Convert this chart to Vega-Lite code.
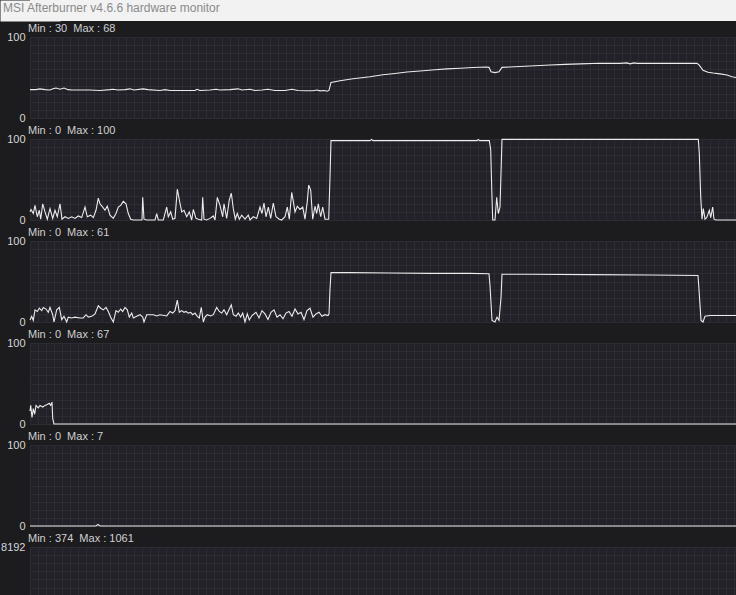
{
  "$schema": "https://vega.github.io/schema/vega-lite/v6.json",
  "background": "#1c1c1f",
  "padding": 0,
  "spacing": 2,
  "config": {
    "view": {"stroke": null, "fill": "#212127"},
    "axis": {"gridColor": "#2c2c34", "gridWidth": 1, "gridOpacity": 1, "domain": false, "ticks": false, "labelColor": "#d6d6d6", "labelFont": "Liberation Sans", "labelFontSize": 11, "title": null, "labelOverlap": false, "labelBound": false},
    "axisY": {"tickCount": 10, "labelExpr": "datum.value == 0 || datum.value == 100 ? datum.label : ''", "minExtent": 30, "maxExtent": 30, "labelPadding": 5},
    "axisX": {"labels": false},
    "title": {"anchor": "start", "frame": "group", "color": "#cfcfcf", "fontSize": 11, "fontWeight": "normal", "font": "Liberation Sans", "offset": -3, "dx": -2},
    "line": {"color": "#ececec", "strokeWidth": 1.1}
  },
  "datasets": {
    "s1": [
      {"t":0,"v":35},{"t":6,"v":35},{"t":10,"v":36},{"t":15,"v":35},{"t":20,"v":34.5},{"t":23,"v":36},{"t":26,"v":37},{"t":30,"v":35.5},{"t":34,"v":37},{"t":38,"v":35},{"t":42,"v":34.5},{"t":50,"v":34.5},{"t":60,"v":34.5},{"t":70,"v":34},{"t":80,"v":35},{"t":83,"v":35.5},{"t":88,"v":34.5},{"t":95,"v":35},{"t":100,"v":36},{"t":104,"v":34.5},{"t":113,"v":36},{"t":118,"v":35},{"t":130,"v":34},{"t":135,"v":35},{"t":140,"v":34},{"t":150,"v":34},{"t":165,"v":34},{"t":167,"v":35.5},{"t":170,"v":34},{"t":180,"v":34.5},{"t":186,"v":35.5},{"t":190,"v":34.5},{"t":200,"v":35},{"t":208,"v":36},{"t":212,"v":34.5},{"t":220,"v":35.5},{"t":225,"v":34},{"t":232,"v":34.5},{"t":238,"v":35.5},{"t":245,"v":34},{"t":255,"v":34},{"t":262,"v":35.5},{"t":268,"v":34},{"t":275,"v":33.7},{"t":283,"v":33.7},{"t":287,"v":34.5},{"t":290,"v":33.5},{"t":294,"v":34},{"t":297,"v":33},{"t":299,"v":34},{"t":301,"v":44},{"t":310,"v":46},{"t":323,"v":48.5},{"t":340,"v":51},{"t":353,"v":53.4},{"t":365,"v":55},{"t":377,"v":56.7},{"t":390,"v":58},{"t":405,"v":59.5},{"t":417,"v":60.7},{"t":430,"v":61.5},{"t":443,"v":62.3},{"t":456,"v":63},{"t":459,"v":62.5},{"t":461,"v":57},{"t":465,"v":56},{"t":469,"v":57},{"t":472,"v":62.5},{"t":480,"v":63},{"t":490,"v":63.5},{"t":505,"v":64.5},{"t":520,"v":65.5},{"t":535,"v":66.2},{"t":550,"v":66.8},{"t":570,"v":67.5},{"t":590,"v":67.5},{"t":597,"v":68},{"t":600,"v":66.8},{"t":604,"v":68},{"t":607,"v":67.5},{"t":630,"v":67.5},{"t":650,"v":67.5},{"t":667,"v":67.5},{"t":669,"v":65.6},{"t":673,"v":59},{"t":678,"v":56.5},{"t":683,"v":55.5},{"t":690,"v":54.5},{"t":697,"v":53},{"t":702,"v":51},{"t":706,"v":50}
    ],
    "s2": [
      {"t":0,"v":10},{"t":1,"v":13},{"t":3.3,"v":8},{"t":5,"v":18},{"t":7.3,"v":4},{"t":9.3,"v":12},{"t":10.7,"v":1},{"t":12.7,"v":20},{"t":15,"v":10},{"t":17.3,"v":1},{"t":20,"v":14},{"t":22.7,"v":2},{"t":25,"v":12},{"t":27.3,"v":4},{"t":30,"v":20},{"t":32,"v":1},{"t":35,"v":4},{"t":38.3,"v":2},{"t":41.7,"v":4},{"t":45,"v":2},{"t":48.3,"v":5},{"t":51.7,"v":3},{"t":55,"v":16},{"t":57.3,"v":4},{"t":60.7,"v":6},{"t":63.3,"v":3},{"t":66,"v":12},{"t":68.3,"v":27},{"t":70,"v":20},{"t":72.7,"v":16},{"t":75,"v":12},{"t":77.3,"v":17},{"t":80,"v":6},{"t":83.3,"v":2},{"t":86,"v":8},{"t":88.3,"v":16},{"t":90.7,"v":18},{"t":93.3,"v":23},{"t":96,"v":20},{"t":98.3,"v":8},{"t":100.7,"v":1},{"t":103.3,"v":0},{"t":112,"v":0},{"t":112.7,"v":28},{"t":114,"v":1},{"t":116.7,"v":0},{"t":125,"v":0},{"t":126.7,"v":8},{"t":128.3,"v":0},{"t":133.3,"v":0},{"t":136.7,"v":16},{"t":138.3,"v":4},{"t":140.7,"v":10},{"t":142.7,"v":1},{"t":145,"v":2},{"t":147.3,"v":38},{"t":149.3,"v":25},{"t":151.7,"v":10},{"t":154,"v":12},{"t":156.7,"v":4},{"t":159.3,"v":10},{"t":161.7,"v":0},{"t":163.3,"v":13},{"t":166,"v":2},{"t":168.3,"v":1},{"t":171.7,"v":0},{"t":172.7,"v":28},{"t":174,"v":1},{"t":176.7,"v":0},{"t":180,"v":2},{"t":183.3,"v":5},{"t":185,"v":0},{"t":187.3,"v":28},{"t":190,"v":18},{"t":192.7,"v":4},{"t":194,"v":20},{"t":196.7,"v":2},{"t":199.3,"v":25},{"t":201.3,"v":33},{"t":203.3,"v":14},{"t":205.3,"v":1},{"t":207.3,"v":8},{"t":209.3,"v":1},{"t":211.7,"v":6},{"t":215,"v":1},{"t":218.3,"v":6},{"t":220,"v":0},{"t":223.3,"v":4},{"t":226.7,"v":2},{"t":230,"v":16},{"t":232,"v":8},{"t":234,"v":21},{"t":236,"v":4},{"t":238.3,"v":16},{"t":240.7,"v":2},{"t":243.3,"v":21},{"t":246,"v":4},{"t":249.3,"v":1},{"t":251.7,"v":0},{"t":255,"v":4},{"t":257.3,"v":16},{"t":259.3,"v":1},{"t":261.7,"v":34},{"t":263.3,"v":23},{"t":265,"v":10},{"t":267.3,"v":17},{"t":270,"v":13},{"t":272.7,"v":16},{"t":275,"v":1},{"t":277.3,"v":23},{"t":278.7,"v":43},{"t":280.7,"v":37},{"t":282.7,"v":1},{"t":285,"v":17},{"t":286.7,"v":8},{"t":288.3,"v":20},{"t":290.7,"v":4},{"t":292.7,"v":16},{"t":295,"v":1},{"t":298.7,"v":1},{"t":300,"v":53},{"t":301,"v":98},{"t":340,"v":98},{"t":341.7,"v":99.5},{"t":343,"v":98},{"t":447,"v":98},{"t":448.3,"v":99.5},{"t":449.5,"v":98},{"t":459.3,"v":98},{"t":460.7,"v":87},{"t":461.7,"v":40},{"t":462.7,"v":0},{"t":465,"v":0},{"t":466.7,"v":28},{"t":468.3,"v":8},{"t":470,"v":16},{"t":471,"v":58},{"t":472,"v":99.5},{"t":668.3,"v":99.5},{"t":669.3,"v":82},{"t":670.7,"v":29},{"t":672,"v":1},{"t":673.3,"v":14},{"t":675,"v":1},{"t":676.7,"v":3},{"t":679.3,"v":12},{"t":680.7,"v":3},{"t":682.7,"v":16},{"t":684,"v":1},{"t":686,"v":0},{"t":706,"v":0}
    ],
    "s3": [
      {"t":0,"v":2.5},{"t":1.7,"v":7},{"t":3.3,"v":2},{"t":5,"v":15},{"t":7.3,"v":13},{"t":9.3,"v":17},{"t":11.7,"v":14},{"t":13.3,"v":18},{"t":16,"v":16},{"t":18.3,"v":12},{"t":20,"v":18},{"t":22.7,"v":9},{"t":24,"v":0},{"t":26.7,"v":15},{"t":29.3,"v":18},{"t":31.7,"v":3},{"t":34,"v":7},{"t":36.7,"v":0},{"t":38.3,"v":6},{"t":41.7,"v":5},{"t":45,"v":6},{"t":50,"v":5},{"t":53.3,"v":5},{"t":56,"v":9},{"t":58.3,"v":6},{"t":61.7,"v":7},{"t":65,"v":10},{"t":68.3,"v":20},{"t":70.7,"v":17},{"t":73.3,"v":15},{"t":76,"v":18},{"t":78.3,"v":13},{"t":80.7,"v":6},{"t":83.3,"v":0},{"t":86,"v":14},{"t":88.3,"v":12},{"t":90.7,"v":16},{"t":92.7,"v":13},{"t":95,"v":18},{"t":97.3,"v":15},{"t":99.3,"v":6},{"t":101.7,"v":11},{"t":103.3,"v":5},{"t":106.7,"v":7},{"t":110,"v":9},{"t":112.7,"v":6},{"t":114,"v":0},{"t":116.7,"v":9},{"t":123.3,"v":9},{"t":126.7,"v":7.5},{"t":130,"v":9},{"t":136.7,"v":7.5},{"t":140,"v":13},{"t":142.7,"v":11},{"t":145,"v":14},{"t":147.3,"v":27},{"t":149.3,"v":12},{"t":151.7,"v":14},{"t":154,"v":12},{"t":156,"v":13},{"t":158.3,"v":11},{"t":160.7,"v":12},{"t":162.7,"v":9},{"t":165,"v":11},{"t":167.3,"v":7},{"t":169.3,"v":5},{"t":171.3,"v":18},{"t":173.3,"v":0},{"t":175,"v":6},{"t":177.3,"v":9},{"t":180.7,"v":7.5},{"t":183.3,"v":9},{"t":186.7,"v":18},{"t":189.3,"v":13},{"t":191.7,"v":11},{"t":194,"v":15},{"t":196.7,"v":9},{"t":199.3,"v":16},{"t":201.3,"v":21},{"t":203.3,"v":9},{"t":206,"v":7},{"t":208.3,"v":11},{"t":210.7,"v":6},{"t":212.7,"v":11},{"t":215,"v":0},{"t":217.3,"v":10},{"t":219.3,"v":2.5},{"t":222,"v":8},{"t":226,"v":12},{"t":229,"v":5},{"t":232,"v":14},{"t":235,"v":10},{"t":238,"v":3},{"t":241,"v":12},{"t":244,"v":15},{"t":247,"v":6},{"t":250,"v":9},{"t":253,"v":4},{"t":256,"v":11},{"t":259,"v":13},{"t":262,"v":7},{"t":265,"v":16},{"t":268,"v":10},{"t":271,"v":12},{"t":274,"v":3},{"t":277,"v":14},{"t":280,"v":17},{"t":283,"v":6},{"t":286,"v":10},{"t":289,"v":12},{"t":292,"v":7},{"t":295,"v":9},{"t":298,"v":8},{"t":299,"v":10},{"t":300,"v":40},{"t":301,"v":61},{"t":320,"v":61},{"t":360,"v":60.5},{"t":400,"v":60},{"t":440,"v":60},{"t":459,"v":59.5},{"t":460,"v":45},{"t":462,"v":2},{"t":465,"v":0},{"t":467,"v":6},{"t":469,"v":2},{"t":471,"v":30},{"t":472,"v":59},{"t":500,"v":59},{"t":560,"v":58.5},{"t":620,"v":58},{"t":668,"v":57.5},{"t":669,"v":40},{"t":671,"v":2},{"t":673,"v":0},{"t":675,"v":7},{"t":680,"v":8},{"t":706,"v":8}
    ],
    "s4": [
      {"t":0,"v":16},{"t":0.7,"v":23},{"t":2,"v":8},{"t":3.3,"v":19},{"t":4.7,"v":12},{"t":6,"v":23},{"t":8.3,"v":20},{"t":10,"v":23},{"t":12.7,"v":21},{"t":15,"v":23},{"t":17.3,"v":24},{"t":19.3,"v":25.5},{"t":20.7,"v":23},{"t":22,"v":27},{"t":22.7,"v":7},{"t":24,"v":0},{"t":706,"v":0}
    ],
    "s5": [
      {"t":0,"v":0},{"t":66,"v":0},{"t":68,"v":2},{"t":70,"v":0},{"t":706,"v":0}
    ]
  },
  "vconcat": [
    {
      "width": 706, "height": 21,
      "view": {"fill": "#f2f2f2"},
      "data": {"values": [{"label": "MSI Afterburner v4.6.6 hardware monitor"}]},
      "mark": {"type": "text", "align": "left", "baseline": "middle", "dx": -27, "color": "#8a8a8a", "font": "Liberation Sans", "fontSize": 12},
      "encoding": {
        "text": {"field": "label"},
        "x": {"datum": 0, "scale": {"domain": [0, 706]}, "axis": null},
        "y": {"datum": 0.62, "scale": {"domain": [0, 1]}, "axis": {"domain": true, "domainColor": "#f2f2f2", "domainWidth": 60, "domainCap": "butt", "labels": false, "grid": false, "ticks": false, "zindex": 0}}
      }
    },
    {
      "title": {"text": "Min : 30\u00a0 Max : 68"},
      "width": 706, "height": 81,
      "data": {"name": "s1"}, "mark": "line",
      "encoding": {"x": {"field": "t", "type": "quantitative", "scale": {"domain": [0, 706]}, "axis": {"values": [0,8,16,24,32,40,48,56,64,72,80,88,96,104,112,120,128,136,144,152,160,168,176,184,192,200,208,216,224,232,240,248,256,264,272,280,288,296,304,312,320,328,336,344,352,360,368,376,384,392,400,408,416,424,432,440,448,456,464,472,480,488,496,504,512,520,528,536,544,552,560,568,576,584,592,600,608,616,624,632,640,648,656,664,672,680,688,696,704]}}, "y": {"field": "v", "type": "quantitative", "scale": {"domain": [0, 100]}}}
    },
    {
      "title": {"text": "Min : 0\u00a0 Max : 100"},
      "width": 706, "height": 81,
      "data": {"name": "s2"}, "mark": "line",
      "encoding": {"x": {"field": "t", "type": "quantitative", "scale": {"domain": [0, 706]}, "axis": {"values": [0,8,16,24,32,40,48,56,64,72,80,88,96,104,112,120,128,136,144,152,160,168,176,184,192,200,208,216,224,232,240,248,256,264,272,280,288,296,304,312,320,328,336,344,352,360,368,376,384,392,400,408,416,424,432,440,448,456,464,472,480,488,496,504,512,520,528,536,544,552,560,568,576,584,592,600,608,616,624,632,640,648,656,664,672,680,688,696,704]}}, "y": {"field": "v", "type": "quantitative", "scale": {"domain": [0, 100]}}}
    },
    {
      "title": {"text": "Min : 0\u00a0 Max : 61"},
      "width": 706, "height": 81,
      "data": {"name": "s3"}, "mark": "line",
      "encoding": {"x": {"field": "t", "type": "quantitative", "scale": {"domain": [0, 706]}, "axis": {"values": [0,8,16,24,32,40,48,56,64,72,80,88,96,104,112,120,128,136,144,152,160,168,176,184,192,200,208,216,224,232,240,248,256,264,272,280,288,296,304,312,320,328,336,344,352,360,368,376,384,392,400,408,416,424,432,440,448,456,464,472,480,488,496,504,512,520,528,536,544,552,560,568,576,584,592,600,608,616,624,632,640,648,656,664,672,680,688,696,704]}}, "y": {"field": "v", "type": "quantitative", "scale": {"domain": [0, 100]}}}
    },
    {
      "title": {"text": "Min : 0\u00a0 Max : 67"},
      "width": 706, "height": 81,
      "data": {"name": "s4"}, "mark": "line",
      "encoding": {"x": {"field": "t", "type": "quantitative", "scale": {"domain": [0, 706]}, "axis": {"values": [0,8,16,24,32,40,48,56,64,72,80,88,96,104,112,120,128,136,144,152,160,168,176,184,192,200,208,216,224,232,240,248,256,264,272,280,288,296,304,312,320,328,336,344,352,360,368,376,384,392,400,408,416,424,432,440,448,456,464,472,480,488,496,504,512,520,528,536,544,552,560,568,576,584,592,600,608,616,624,632,640,648,656,664,672,680,688,696,704]}}, "y": {"field": "v", "type": "quantitative", "scale": {"domain": [0, 100]}}}
    },
    {
      "title": {"text": "Min : 0\u00a0 Max : 7"},
      "width": 706, "height": 81,
      "data": {"name": "s5"}, "mark": "line",
      "encoding": {"x": {"field": "t", "type": "quantitative", "scale": {"domain": [0, 706]}, "axis": {"values": [0,8,16,24,32,40,48,56,64,72,80,88,96,104,112,120,128,136,144,152,160,168,176,184,192,200,208,216,224,232,240,248,256,264,272,280,288,296,304,312,320,328,336,344,352,360,368,376,384,392,400,408,416,424,432,440,448,456,464,472,480,488,496,504,512,520,528,536,544,552,560,568,576,584,592,600,608,616,624,632,640,648,656,664,672,680,688,696,704]}}, "y": {"field": "v", "type": "quantitative", "scale": {"domain": [0, 100]}}}
    },
    {
      "title": {"text": "Min : 374\u00a0 Max : 1061"},
      "width": 706, "height": 48,
      "data": {"values": []}, "mark": {"type": "line", "clip": true},
      "encoding": {
        "x": {"field": "t", "type": "quantitative", "scale": {"domain": [0, 706]}, "axis": {"values": [0,8,16,24,32,40,48,56,64,72,80,88,96,104,112,120,128,136,144,152,160,168,176,184,192,200,208,216,224,232,240,248,256,264,272,280,288,296,304,312,320,328,336,344,352,360,368,376,384,392,400,408,416,424,432,440,448,456,464,472,480,488,496,504,512,520,528,536,544,552,560,568,576,584,592,600,608,616,624,632,640,648,656,664,672,680,688,696,704]}},
        "y": {"field": "v", "type": "quantitative", "scale": {"domain": [3338, 8192]}, "axis": {"values": [8192, 7373, 6554, 5734, 4915, 4096], "labelExpr": "datum.value == 8192 ? datum.label : ''", "format": "d"}}
      }
    }
  ]
}
